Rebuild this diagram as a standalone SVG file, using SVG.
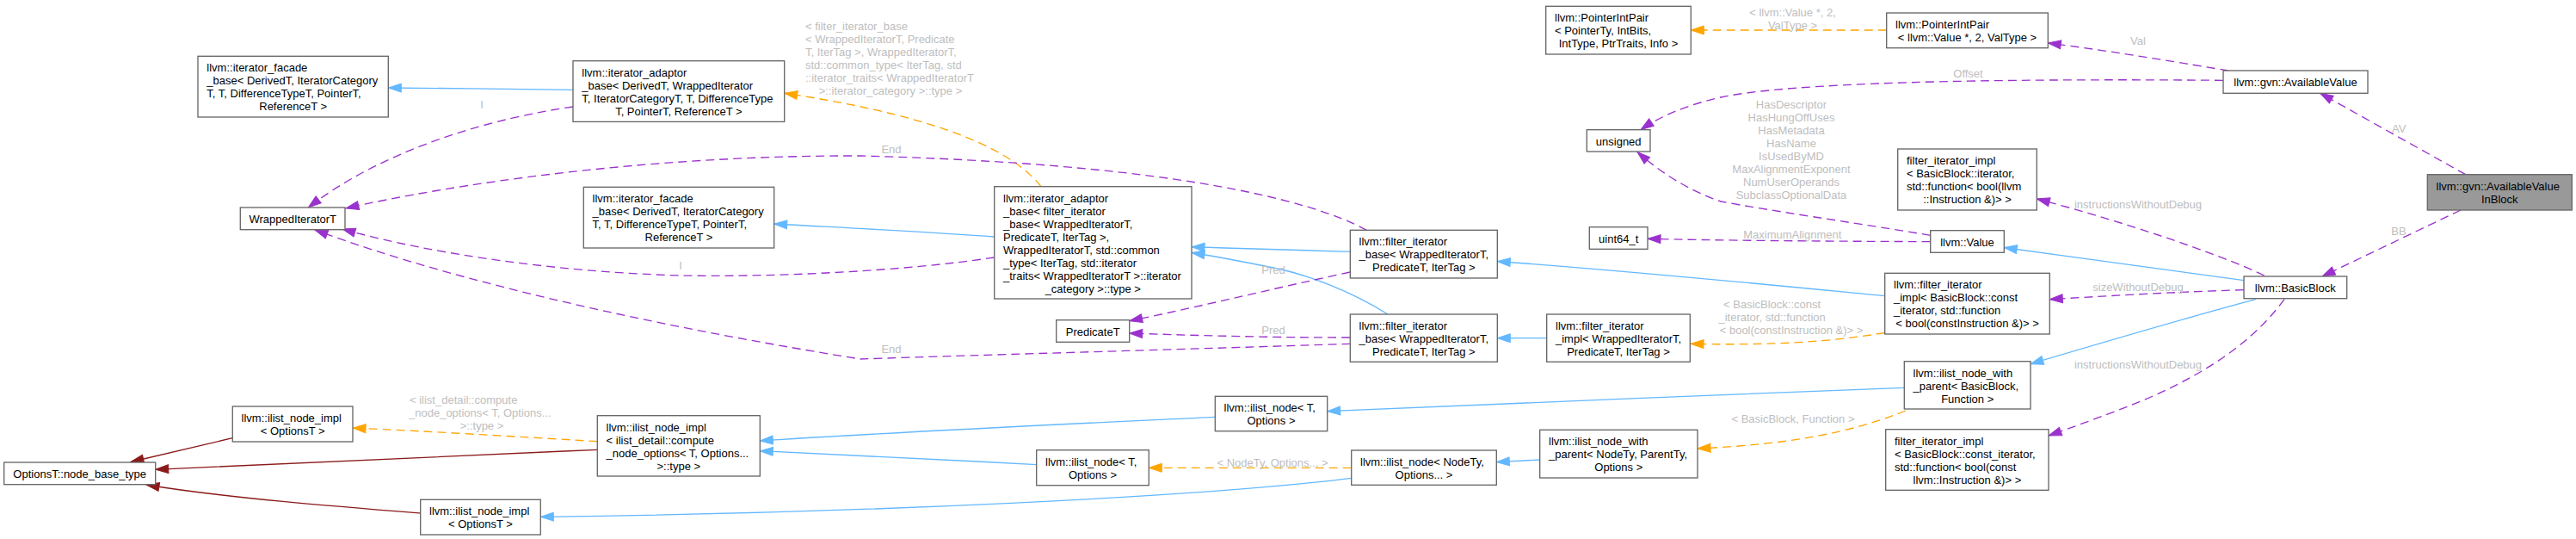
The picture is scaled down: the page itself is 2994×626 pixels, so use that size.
<svg xmlns="http://www.w3.org/2000/svg" width="2994" height="626" viewBox="0 0 2994 626" xml:space="preserve">
<style>
.n rect{fill:#ffffff;stroke:#666666;stroke-width:1.33}
.n.main rect{fill:#999999}
text{font-family:"Liberation Sans",Arial,Helvetica,sans-serif;font-size:13px;fill:#000000}
.m{text-anchor:middle}
.lb text{fill:#bebebe}
.e path{fill:none;stroke-width:1.33}
.bl{stroke:#63b8ff}
.pu{stroke:#9a32cd;stroke-dasharray:10,6}
.or{stroke:#ffa500;stroke-dasharray:10,6}
.rd{stroke:#8b1a1a}
</style>
<defs>
<marker id="ab" markerWidth="15" markerHeight="10" refX="15" refY="5" orient="auto" markerUnits="userSpaceOnUse" overflow="visible"><path d="M0,0L15,5L0,10z" fill="#63b8ff" stroke="#63b8ff"/></marker>
<marker id="ap" markerWidth="15" markerHeight="10" refX="15" refY="5" orient="auto" markerUnits="userSpaceOnUse" overflow="visible"><path d="M0,0L15,5L0,10z" fill="#9a32cd" stroke="#9a32cd"/></marker>
<marker id="ao" markerWidth="15" markerHeight="10" refX="15" refY="5" orient="auto" markerUnits="userSpaceOnUse" overflow="visible"><path d="M0,0L15,5L0,10z" fill="#ffa500" stroke="#ffa500"/></marker>
<marker id="ar" markerWidth="15" markerHeight="10" refX="15" refY="5" orient="auto" markerUnits="userSpaceOnUse" overflow="visible"><path d="M0,0L15,5L0,10z" fill="#8b1a1a" stroke="#8b1a1a"/></marker>
</defs>
<rect width="2994" height="626" fill="#ffffff"/>
<g id="edges" class="e">
<path class="bl" marker-end="url(#ab)" d="M666,104.3C600,103.5 520,102.5 451.3,102"/>
<path class="bl" marker-end="url(#ab)" d="M1155.7,275C1090,270 1000,265.5 899.7,260"/>
<path class="bl" marker-end="url(#ab)" d="M1569.3,292.3C1520,291 1450,289 1385,286.7"/>
<path class="bl" marker-end="url(#ab)" d="M1613,365C1570,338 1520,319 1480,311C1450,305 1415,298 1385,293.5"/>
<path class="bl" marker-end="url(#ab)" d="M1797.7,392.7L1740.3,392.7"/>
<path class="bl" marker-end="url(#ab)" d="M2190.7,343.7C2100,335 1900,315 1740.3,303.5"/>
<path class="bl" marker-end="url(#ab)" d="M2608,325.7C2500,311 2420,300 2329.3,287.5"/>
<path class="bl" marker-end="url(#ab)" d="M2621.7,347.7C2560,364 2460,393 2360,422.7"/>
<path class="bl" marker-end="url(#ab)" d="M2213.3,450.3C2000,459 1750,468 1542.7,477.7"/>
<path class="bl" marker-end="url(#ab)" d="M1412.3,484.3C1250,492 1050,501 883.3,512"/>
<path class="bl" marker-end="url(#ab)" d="M1204.7,539.7C1100,534 1000,528.5 883.3,523.7"/>
<path class="bl" marker-end="url(#ab)" d="M1570.7,555.3C1400,577 1000,596 628.3,600.3"/>
<path class="bl" marker-end="url(#ab)" d="M1789.7,534L1739.3,536.7"/>
<path class="rd" marker-end="url(#ar)" d="M270.3,508.7L152,536.5"/>
<path class="rd" marker-end="url(#ar)" d="M694.3,522.3C500,531 300,540 180.7,545.3"/>
<path class="rd" marker-end="url(#ar)" d="M488.7,596C400,589 260,578 170,563"/>
<path class="or" marker-end="url(#ao)" d="M694.3,512.7C600,507 500,501 410,497"/>
<path class="or" marker-end="url(#ao)" d="M1570.7,543.3L1335.3,543.3"/>
<path class="or" marker-end="url(#ao)" d="M2215,477C2150,503 2080,516 1973,521"/>
<path class="or" marker-end="url(#ao)" d="M2190.7,386.5C2120,398 2060,401 1965,399.3"/>
<path class="or" marker-end="url(#ao)" d="M1210,216.7C1170,165 1060,130 911.7,108.3"/>
<path class="or" marker-end="url(#ao)" d="M2192.7,35L1965.3,35"/>
<path class="pu" marker-end="url(#ap)" d="M2590,82C2540,74 2460,60 2380.3,50"/>
<path class="pu" marker-end="url(#ap)" d="M2584,93.3C2300,91 2080,96 2000,113C1960,122 1930,135 1907,150.5"/>
<path class="pu" marker-end="url(#ap)" d="M2243.7,273.3C2150,258 2060,245 2000,234C1960,220 1930,200 1903,176.5"/>
<path class="pu" marker-end="url(#ap)" d="M2243.7,280.7C2100,280 2000,279.3 1915,277.3"/>
<path class="pu" marker-end="url(#ap)" d="M2631.7,320C2580,295 2460,255 2367.3,231"/>
<path class="pu" marker-end="url(#ap)" d="M2608,336.7C2530,339 2460,343 2382.3,347.7"/>
<path class="pu" marker-end="url(#ap)" d="M2655,347.7C2620,395 2570,430 2500,461C2460,478 2420,492 2381,506"/>
<path class="pu" marker-end="url(#ap)" d="M2865.7,202.7L2696.7,108.3"/>
<path class="pu" marker-end="url(#ap)" d="M2860,244L2699,321"/>
<path class="pu" marker-end="url(#ap)" d="M666,124C580,136 450,170 358.3,241"/>
<path class="pu" marker-end="url(#ap)" d="M1588.3,267.3C1520,230 1350,190 1000,181C750,180 520,215 402,242"/>
<path class="pu" marker-end="url(#ap)" d="M1155.7,299C1050,315 900,322 791,320C650,316 500,295 398,266"/>
<path class="pu" marker-end="url(#ap)" d="M1569.3,399.3C1400,405 1150,412 1000,417C800,385 550,335 366,267"/>
<path class="pu" marker-end="url(#ap)" d="M1569.3,392C1480,392 1400,390 1312.7,387"/>
<path class="pu" marker-end="url(#ap)" d="M1569.3,316C1480,335 1400,355 1312.7,372.7"/>
</g>
<g id="edge-labels" class="lb">
<text x="476" y="468.5">&lt; ilist_detail::compute</text>
<text x="475" y="483.5">_node_options&lt; T, Options...</text>
<text class="m" x="560" y="498.5">&gt;::type &gt;</text>
<text class="m" x="1479" y="541.5">&lt; NodeTy, Options... &gt;</text>
<text class="m" x="2084" y="490.8">&lt; BasicBlock, Function &gt;</text>
<text class="m" x="2059.6" y="357.5">&lt; BasicBlock::const</text>
<text class="m" x="2059.6" y="372.5">_iterator, std::function</text>
<text class="m" x="2082" y="387.5">&lt; bool(constInstruction &amp;)&gt; &gt;</text>
<text x="936" y="34.5">&lt; filter_iterator_base</text>
<text x="936" y="49.5">&lt; WrappedIteratorT, Predicate</text>
<text x="936" y="64.5">T, IterTag &gt;, WrappedIteratorT,</text>
<text x="936" y="79.5"> std::common_type&lt; IterTag, std</text>
<text x="936" y="94.5">::iterator_traits&lt; WrappedIteratorT</text>
<text class="m" x="1035" y="109.5">&gt;::iterator_category &gt;::type &gt;</text>
<text class="m" x="2083.5" y="18.5">&lt; llvm::Value *, 2,</text>
<text class="m" x="2083.5" y="33.5">ValType &gt;</text>
<text class="m" x="2485" y="51.5">Val</text>
<text class="m" x="2287.5" y="90">Offset</text>
<text class="m" x="2082" y="126.1">HasDescriptor</text>
<text class="m" x="2082" y="141.1">HasHungOffUses</text>
<text class="m" x="2082" y="156.1">HasMetadata</text>
<text class="m" x="2082" y="171.1">HasName</text>
<text class="m" x="2082" y="186.1">IsUsedByMD</text>
<text class="m" x="2082" y="201.1">MaxAlignmentExponent</text>
<text class="m" x="2082" y="216.1">NumUserOperands</text>
<text class="m" x="2082" y="231.1">SubclassOptionalData</text>
<text class="m" x="2083.3" y="277">MaximumAlignment</text>
<text class="m" x="2485" y="241.5">instructionsWithoutDebug</text>
<text class="m" x="2485" y="337.5">sizeWithoutDebug</text>
<text class="m" x="2485" y="427.5">instructionsWithoutDebug</text>
<text class="m" x="2788.3" y="153.8">AV</text>
<text class="m" x="2788" y="273">BB</text>
<text class="m" x="560" y="125.8">I</text>
<text class="m" x="1036" y="178">End</text>
<text class="m" x="791" y="313">I</text>
<text class="m" x="1036" y="410">End</text>
<text class="m" x="1480" y="387.5">Pred</text>
<text class="m" x="1480" y="317.7">Pred</text>
</g>
<g id="n1" class="n"><rect x="230" y="65.3" width="221.3" height="70.7"/><text x="240.3" y="83.1">llvm::iterator_facade</text><text x="240.3" y="98.1">_base&lt; DerivedT, IteratorCategory</text><text x="240.3" y="113.1">T, T, DifferenceTypeT, PointerT,</text><text class="m" x="340.7" y="128.1">ReferenceT &gt;</text></g>
<g id="n2" class="n"><rect x="666" y="70.7" width="245.7" height="70.7"/><text x="676.3" y="88.5">llvm::iterator_adaptor</text><text x="676.3" y="103.5">_base&lt; DerivedT, WrappedIterator</text><text x="676.3" y="118.5">T, IteratorCategoryT, T, DifferenceType</text><text class="m" x="788.9" y="133.5">T, PointerT, ReferenceT &gt;</text></g>
<g id="n3" class="n"><rect x="279.3" y="241" width="121.7" height="25.7"/><text class="m" x="340.2" y="258.8">WrappedIteratorT</text></g>
<g id="n4" class="n"><rect x="678.3" y="217.3" width="221.4" height="70.7"/><text x="688.6" y="235.1">llvm::iterator_facade</text><text x="688.6" y="250.1">_base&lt; DerivedT, IteratorCategory</text><text x="688.6" y="265.1">T, T, DifferenceTypeT, PointerT,</text><text class="m" x="789" y="280.1">ReferenceT &gt;</text></g>
<g id="n5" class="n"><rect x="1155.7" y="216.7" width="229.3" height="130.3"/><text x="1166" y="234.5">llvm::iterator_adaptor</text><text x="1166" y="249.5">_base&lt; filter_iterator</text><text x="1166" y="264.5">_base&lt; WrappedIteratorT,</text><text x="1166" y="279.5"> PredicateT, IterTag &gt;,</text><text x="1166" y="294.5"> WrappedIteratorT, std::common</text><text x="1166" y="309.5">_type&lt; IterTag, std::iterator</text><text x="1166" y="324.5">_traits&lt; WrappedIteratorT &gt;::iterator</text><text class="m" x="1270.3" y="339.5">_category &gt;::type &gt;</text></g>
<g id="n6" class="n"><rect x="1227.7" y="371.7" width="85" height="25.6"/><text class="m" x="1270.2" y="389.5">PredicateT</text></g>
<g id="n7" class="n"><rect x="1569.3" y="267.3" width="171" height="55.7"/><text x="1579.6" y="285.1">llvm::filter_iterator</text><text x="1579.6" y="300.1">_base&lt; WrappedIteratorT,</text><text class="m" x="1654.8" y="315.1">PredicateT, IterTag &gt;</text></g>
<g id="n8" class="n"><rect x="1569.3" y="365" width="171" height="55.3"/><text x="1579.6" y="382.8">llvm::filter_iterator</text><text x="1579.6" y="397.8">_base&lt; WrappedIteratorT,</text><text class="m" x="1654.8" y="412.8">PredicateT, IterTag &gt;</text></g>
<g id="n9" class="n"><rect x="1797.7" y="365" width="166.6" height="55.3"/><text x="1808" y="382.8">llvm::filter_iterator</text><text x="1808" y="397.8">_impl&lt; WrappedIteratorT,</text><text class="m" x="1881" y="412.8">PredicateT, IterTag &gt;</text></g>
<g id="n10" class="n"><rect x="1412.3" y="460.3" width="130.4" height="40.4"/><text x="1422.6" y="478.1">llvm::ilist_node&lt; T,</text><text class="m" x="1477.5" y="493.1">Options &gt;</text></g>
<g id="n11" class="n"><rect x="1204.7" y="522.7" width="130.6" height="41"/><text x="1215" y="540.5">llvm::ilist_node&lt; T,</text><text class="m" x="1270" y="555.5">Options &gt;</text></g>
<g id="n12" class="n"><rect x="1570.7" y="523" width="168.6" height="40.3"/><text x="1581" y="540.8">llvm::ilist_node&lt; NodeTy,</text><text class="m" x="1655" y="555.8">Options... &gt;</text></g>
<g id="n13" class="n"><rect x="1789.7" y="499.3" width="183.3" height="55.7"/><text x="1800" y="517.1">llvm::ilist_node_with</text><text x="1800" y="532.1">_parent&lt; NodeTy, ParentTy,</text><text class="m" x="1881.3" y="547.1">Options &gt;</text></g>
<g id="n14" class="n"><rect x="1796.7" y="7.3" width="168.6" height="55.7"/><text x="1807" y="25.1">llvm::PointerIntPair</text><text x="1807" y="40.1">&lt; PointerTy, IntBits,</text><text class="m" x="1881" y="55.1">IntType, PtrTraits, Info &gt;</text></g>
<g id="n15" class="n"><rect x="1844.3" y="150.7" width="73.7" height="25.3"/><text class="m" x="1881.2" y="168.5">unsigned</text></g>
<g id="n16" class="n"><rect x="1847.3" y="263.7" width="67.7" height="25.6"/><text class="m" x="1881.2" y="281.5">uint64_t</text></g>
<g id="n17" class="n"><rect x="2192.7" y="15" width="187.6" height="40.7"/><text x="2203" y="32.8">llvm::PointerIntPair</text><text class="m" x="2286.5" y="47.8">&lt; llvm::Value *, 2, ValType &gt;</text></g>
<g id="n18" class="n"><rect x="2205.7" y="173" width="161.6" height="71"/><text x="2216" y="190.8">filter_iterator_impl</text><text x="2216" y="205.8">&lt; BasicBlock::iterator,</text><text x="2216" y="220.8"> std::function&lt; bool(llvm</text><text class="m" x="2286.5" y="235.8">::Instruction &amp;)&gt; &gt;</text></g>
<g id="n19" class="n"><rect x="2243.7" y="267.7" width="85.6" height="25.6"/><text class="m" x="2286.5" y="285.5">llvm::Value</text></g>
<g id="n20" class="n"><rect x="2190.7" y="317.3" width="191.6" height="70.7"/><text x="2201" y="335.1">llvm::filter_iterator</text><text x="2201" y="350.1">_impl&lt; BasicBlock::const</text><text x="2201" y="365.1">_iterator, std::function</text><text class="m" x="2286.5" y="380.1">&lt; bool(constInstruction &amp;)&gt; &gt;</text></g>
<g id="n21" class="n"><rect x="2213.3" y="419.7" width="146.7" height="55.3"/><text x="2223.6" y="437.5">llvm::ilist_node_with</text><text x="2223.6" y="452.5">_parent&lt; BasicBlock,</text><text class="m" x="2286.7" y="467.5">Function &gt;</text></g>
<g id="n22" class="n"><rect x="2191.7" y="498.7" width="189.3" height="70.6"/><text x="2202" y="516.5">filter_iterator_impl</text><text x="2202" y="531.5">&lt; BasicBlock::const_iterator,</text><text x="2202" y="546.5"> std::function&lt; bool(const</text><text class="m" x="2286.4" y="561.5">llvm::Instruction &amp;)&gt; &gt;</text></g>
<g id="n23" class="n"><rect x="2584" y="82" width="168" height="26.3"/><text class="m" x="2668" y="99.8">llvm::gvn::AvailableValue</text></g>
<g id="n24" class="n main"><rect x="2821.3" y="202.7" width="168" height="41.3"/><text x="2831.6" y="220.5">llvm::gvn::AvailableValue</text><text class="m" x="2905.3" y="235.5">InBlock</text></g>
<g id="n25" class="n"><rect x="2608" y="321" width="119.7" height="25.7"/><text class="m" x="2667.8" y="338.8">llvm::BasicBlock</text></g>
<g id="n26" class="n"><rect x="4.7" y="537" width="176" height="25.7"/><text class="m" x="92.7" y="554.8">OptionsT::node_base_type</text></g>
<g id="n27" class="n"><rect x="270.3" y="472" width="139.7" height="41"/><text x="280.6" y="489.8">llvm::ilist_node_impl</text><text class="m" x="340.2" y="504.8">&lt; OptionsT &gt;</text></g>
<g id="n28" class="n"><rect x="694.3" y="482.7" width="189" height="70.3"/><text x="704.6" y="500.5">llvm::ilist_node_impl</text><text x="704.6" y="515.5">&lt; ilist_detail::compute</text><text x="704.6" y="530.5">_node_options&lt; T, Options...</text><text class="m" x="788.8" y="545.5">&gt;::type &gt;</text></g>
<g id="n29" class="n"><rect x="488.7" y="580.3" width="139.6" height="40.7"/><text x="499" y="598.1">llvm::ilist_node_impl</text><text class="m" x="558.5" y="613.1">&lt; OptionsT &gt;</text></g>
</svg>
